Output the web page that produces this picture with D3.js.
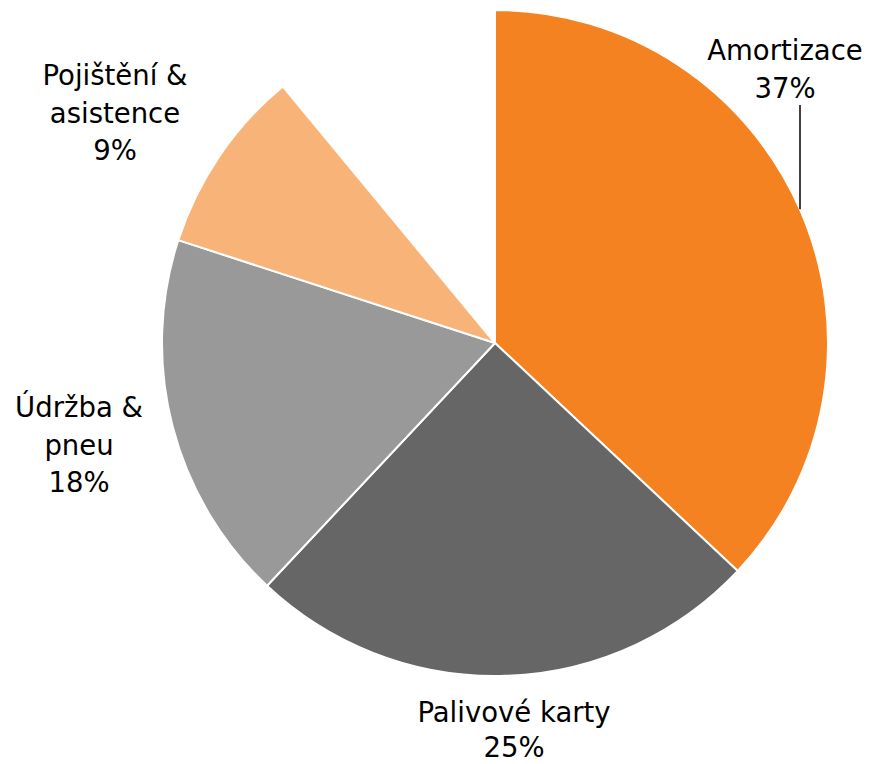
<!DOCTYPE html>
<html>
<head>
<meta charset="utf-8">
<script src="https://cdn.jsdelivr.net/npm/d3@7"></script>
<style>
  html, body { margin: 0; padding: 0; background: #ffffff; }
  svg { display: block; }
  text { font-family: "DejaVu Sans", sans-serif; fill: #000; }
</style>
</head>
<body>
<svg id="chart" width="872" height="764"></svg>
<script>
// ---- data ----
const categories = ["Amortizace", "Palivové karty", "Údržba & pneu", "Pojištění & asistence"];
const values = [37, 25, 18, 9];           // percent of total (remaining 11 % not shown)
const labelLines = [["Amortizace"], ["Palivové karty"], ["Údržba &", "pneu"], ["Pojištění &", "asistence"]];
const percentLabels = ["37%", "25%", "18%", "9%"];
const colors = ["#F58220", "#666666", "#999999", "#F8B478"];

// ---- layout ----
const W = 872, H = 764;
const cx = 495, cy = 343, R = 333;
const total = 100;

const svg = d3.select("#chart");
const g = svg.append("g").attr("transform", `translate(${cx},${cy})`);

const data = categories.map((c, i) => ({ name: c, value: values[i], lines: labelLines[i], pct: percentLabels[i], color: colors[i] }));
const pie = d3.pie().sort(null).value(d => d.value)
  .startAngle(0).endAngle(2 * Math.PI * d3.sum(values) / total);
const arcs = pie(data);
const arc = d3.arc().innerRadius(0).outerRadius(R);

g.selectAll("path.slice").data(arcs).enter().append("path")
  .attr("class", "slice")
  .attr("d", arc)
  .attr("fill", d => d.data.color)
  .attr("stroke", "#ffffff")
  .attr("stroke-width", 2)
  .attr("stroke-linejoin", "round");

// label placement (layout, relative to centre): block centre x, first baseline y
const labelPos = [
  { x: 290, y: -283 },
  { x: 19, y: -343 + 722 },
  { x: -416, y: -343 + 417 },
  { x: -380, y: -343 + 85 }
];
const lineH = 37.5;
const fs = 27.5;

arcs.forEach((a, i) => {
  const p = labelPos[i];
  const lines = a.data.lines.concat([a.data.pct]);
  const t = g.append("text").attr("text-anchor", "middle").attr("font-size", fs);
  lines.forEach((ln, j) => {
    t.append("tspan").attr("x", p.x).attr("y", p.y + j * (i === 1 ? 35 : lineH)).text(ln);
  });
});

// leader line for Amortizace: from under label down to slice edge
{
  const lx = 800 - cx;
  const yEdge = -Math.sqrt(R * R - lx * lx);
  g.append("line")
    .attr("x1", lx).attr("x2", lx)
    .attr("y1", 105 - cy).attr("y2", yEdge)
    .attr("stroke", "#000").attr("stroke-width", 1.5);
}
</script>
</body>
</html>
